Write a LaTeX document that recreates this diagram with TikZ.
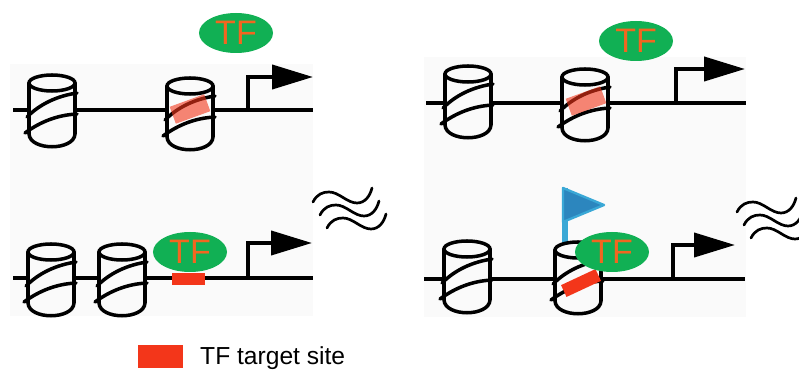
\documentclass[tikz,border=0pt]{standalone}
\usepackage{fontspec}
\setmainfont{Liberation Sans}
\usetikzlibrary{shapes.geometric,arrows.meta}

\definecolor{panel}{RGB}{250,250,250}
\definecolor{sitered}{RGB}{243,54,26}
\definecolor{tfgreen}{RGB}{17,176,84}
\definecolor{tforange}{RGB}{242,102,32}
\definecolor{flagfill}{RGB}{44,134,190}
\definecolor{flagedge}{RGB}{58,168,214}

\tikzset{
  dna/.style={line width=3.4pt},
  nucline/.style={line width=3pt, line cap=round},
  tf/.style={ellipse, fill=tfgreen, text=tforange, minimum width=2.22cm,
    minimum height=1.2cm, inner sep=0pt, font=\fontsize{29}{29}\selectfont},
  band/.style={fill=sitered, opacity=0.6, minimum width=1.1cm,
    minimum height=0.54cm, inner sep=0pt, rotate=20},
  site/.style={fill=sitered, inner sep=0pt},
  promoter/.style={dna, -{Triangle[length=1.23cm,width=0.72cm]}},
  nucleosome/.pic={
    \fill[panel] (-23,0) -- (-23,51) .. controls (-22,68) and (22,68) .. (23,51) -- (23,0) -- cycle;
    \fill[panel] (0,0) ellipse [x radius=0.69cm, y radius=0.24cm];
    \draw[nucline] (0,0) ellipse [x radius=0.69cm, y radius=0.24cm];
    \draw[nucline] (-23,0) -- (-23,51) .. controls (-22,68) and (22,68) .. (23,51) -- (23,0);
    \draw[nucline] (-25,34) .. controls (-12,21) and (5,13) .. (25,10);
    \draw[nucline] (-27,50) .. controls (-12,39) and (5,32) .. (25,31);
  },
  ripple/.pic={
    \foreach \dx/\dy in {0/0,7/13,14/26}
      \draw[line width=2.3pt, line cap=round, shift={(\dx,\dy)}]
        (0,0) .. controls (4,-8) and (10,-10) .. (16,-10)
        .. controls (26,-10) and (34,1) .. (44,1)
        .. controls (52,1) and (57,-6) .. (59,-14);
  }
}

\begin{document}
\begin{tikzpicture}[x=0.03cm, y=-0.03cm]
        \useasboundingbox (0,0) rectangle (799,373);
        %% Panels
        \fill[panel] (10,64) rectangle (313,316);
        \fill[panel] (424,57) rectangle (746,317);

        %% Left panel, top: closed promoter
        \draw[dna] (13,110) -- (313,110);
        \coordinate (startA) at (248,110);
        \coordinate (tipA) at (313,77);
        \draw[promoter] (startA) |- (tipA);
        \pic at (52,83) {nucleosome};
        \pic at (190,86) {nucleosome};
        \node[band] (bandA) at (190,109) {};
        \node[tf] (tfA) at (236,33) {TF};

        %% Left panel, bottom: nucleosome slid away, site bound
        \draw[dna] (13,278) -- (313,278);
        \coordinate (startB) at (248,278);
        \coordinate (tipB) at (312,243);
        \draw[promoter] (startB) |- (tipB);
        \pic at (51,252) {nucleosome};
        \pic at (122,252) {nucleosome};
        \node[site, minimum width=0.99cm, minimum height=0.36cm] (siteB) at (188.5,279) {};
        \node[tf] (tfB) at (190,252) {TF};
        \pic at (313,202) {ripple};

        %% Right panel, top
        \draw[dna] (426,103) -- (746,103);
        \coordinate (startC) at (676,103);
        \coordinate (tipC) at (745,69);
        \draw[promoter] (startC) |- (tipC);
        \pic at (468,74) {nucleosome};
        \pic at (585,77) {nucleosome};
        \node[band] (bandC) at (586,101) {};
        \node[tf] (tfC) at (636,41) {TF};

        %% Right panel, bottom: TF binds the nucleosome, flag on top
        \draw[dna] (424,279) -- (745,279);
        \coordinate (startD) at (673,279);
        \coordinate (tipD) at (735,245);
        \draw[promoter] (startD) |- (tipD);
        \draw[flagedge, line width=5pt] (565,188) -- (565,248);
        \filldraw[fill=flagfill, draw=flagedge, line width=2pt, line join=round]
          (563,188) -- (604,205) -- (563,222) -- cycle;
        \pic at (467,249) {nucleosome};
        \pic at (578,250) {nucleosome};
        \node[site, rotate=25, minimum width=1.14cm, minimum height=0.39cm] (siteD) at (581,283) {};
        \node[tf] (tfD) at (612,252) {TF};
        \pic at (737,212) {ripple};

        %% Legend
        \node[site, anchor=north west, minimum width=1.35cm, minimum height=0.69cm] (key) at (138,345) {};
        \node[anchor=base west, inner sep=0pt, font=\fontsize{21}{21}\selectfont] (keytext) at (200,365) {TF target site};
\end{tikzpicture}
\end{document}
